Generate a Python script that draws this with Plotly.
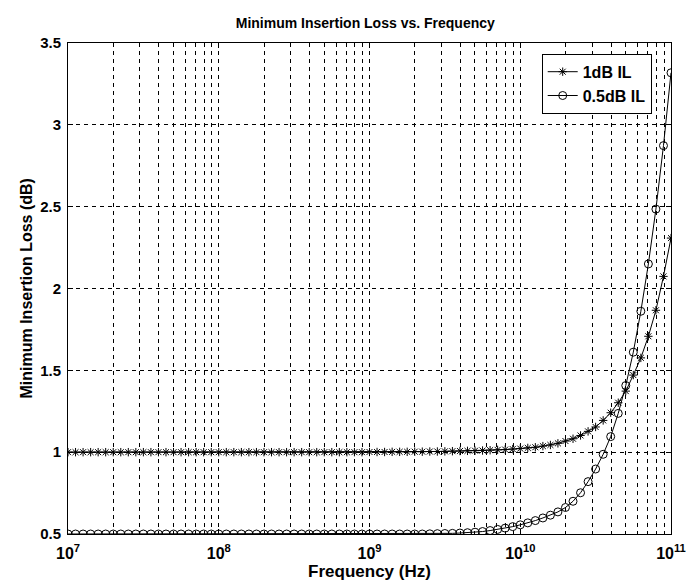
import plotly.graph_objects as go

# Frequencies (Hz): 20 points per decade, 1e7 .. 1e11
freq_hz = [
    1.000e7, 1.122e7, 1.259e7, 1.413e7, 1.585e7, 1.778e7, 1.995e7, 2.239e7, 2.512e7, 2.818e7,
    3.162e7, 3.548e7, 3.981e7, 4.467e7, 5.012e7, 5.623e7, 6.310e7, 7.079e7, 7.943e7, 8.913e7,
    1.000e8, 1.122e8, 1.259e8, 1.413e8, 1.585e8, 1.778e8, 1.995e8, 2.239e8, 2.512e8, 2.818e8,
    3.162e8, 3.548e8, 3.981e8, 4.467e8, 5.012e8, 5.623e8, 6.310e8, 7.079e8, 7.943e8, 8.913e8,
    1.000e9, 1.122e9, 1.259e9, 1.413e9, 1.585e9, 1.778e9, 1.995e9, 2.239e9, 2.512e9, 2.818e9,
    3.162e9, 3.548e9, 3.981e9, 4.467e9, 5.012e9, 5.623e9, 6.310e9, 7.079e9, 7.943e9, 8.913e9,
    1.000e10, 1.122e10, 1.259e10, 1.413e10, 1.585e10, 1.778e10, 1.995e10, 2.239e10, 2.512e10, 2.818e10,
    3.162e10, 3.548e10, 3.981e10, 4.467e10, 5.012e10, 5.623e10, 6.310e10, 7.079e10, 7.943e10, 8.913e10,
    1.000e11,
]

# Minimum insertion loss (dB), 1 dB IL design
il_1db = [
    1.000, 1.000, 1.000, 1.000, 1.000, 1.000, 1.000, 1.000, 1.000, 1.000,
    1.000, 1.000, 1.000, 1.000, 1.000, 1.000, 1.000, 1.000, 1.000, 1.000,
    1.000, 1.000, 1.000, 1.000, 1.000, 1.000, 1.000, 1.000, 1.000, 1.000,
    1.000, 1.000, 1.000, 1.000, 1.000, 1.000, 1.000, 1.000, 1.000, 1.000,
    1.001, 1.001, 1.001, 1.002, 1.002, 1.002, 1.003, 1.003, 1.004, 1.004,
    1.005, 1.006, 1.007, 1.008, 1.009, 1.010, 1.012, 1.014, 1.016, 1.019,
    1.022, 1.026, 1.030, 1.037, 1.044, 1.054, 1.068, 1.082, 1.102, 1.127,
    1.154, 1.194, 1.241, 1.302, 1.373, 1.471, 1.576, 1.708, 1.867, 2.074,
    2.308,
]

# Minimum insertion loss (dB), 0.5 dB IL design
il_05db = [
    0.500, 0.500, 0.500, 0.500, 0.500, 0.500, 0.500, 0.500, 0.500, 0.500,
    0.500, 0.500, 0.500, 0.500, 0.500, 0.500, 0.500, 0.500, 0.500, 0.500,
    0.500, 0.500, 0.500, 0.500, 0.500, 0.500, 0.500, 0.500, 0.500, 0.500,
    0.500, 0.500, 0.500, 0.500, 0.500, 0.500, 0.500, 0.500, 0.500, 0.500,
    0.500, 0.500, 0.500, 0.500, 0.500, 0.500, 0.500, 0.500, 0.501, 0.502,
    0.503, 0.504, 0.506, 0.508, 0.511, 0.515, 0.521, 0.528, 0.536, 0.545,
    0.556, 0.568, 0.582, 0.598, 0.615, 0.635, 0.662, 0.700, 0.752, 0.820,
    0.897, 0.987, 1.095, 1.237, 1.407, 1.611, 1.861, 2.150, 2.485, 2.873,
    3.318,
]

series_names = ["1dB IL", "0.5dB IL"]
x_major_ticks = [1e7, 1e8, 1e9, 1e10, 1e11]
x_major_labels = ["10<sup>7</sup>", "10<sup>8</sup>", "10<sup>9</sup>",
                  "10<sup>10</sup>", "10<sup>11</sup>"]
x_minor_ticks = [m * d for d in [1e7, 1e8, 1e9, 1e10] for m in range(2, 10)]
y_ticks = [0.5, 1, 1.5, 2, 2.5, 3, 3.5]
y_labels = ["0.5", "1", "1.5", "2", "2.5", "3", "3.5"]
y_title = "Minimum Insertion Loss (dB)"

FONT = "Liberation Sans, Arial, Helvetica, sans-serif"
GRID = dict(showgrid=True, gridcolor="#000000", gridwidth=1, griddash="4px,4px")

fig = go.Figure()
fig.add_trace(go.Scatter(
    x=freq_hz, y=il_1db, name=series_names[0], mode="lines+markers",
    line=dict(color="black", width=1),
    marker=dict(symbol="asterisk-open", size=7, color="black",
                line=dict(color="black", width=1)),
))
fig.add_trace(go.Scatter(
    x=freq_hz, y=il_05db, name=series_names[1], mode="lines+markers",
    line=dict(color="black", width=1),
    marker=dict(symbol="circle-open", size=8, color="black",
                line=dict(color="black", width=1)),
))

fig.update_layout(
    width=694, height=582,
    paper_bgcolor="white", plot_bgcolor="white",
    margin=dict(l=60, r=31, t=35, b=56),
    font=dict(family=FONT, size=16, color="black", weight="bold"),
    title=dict(text="Minimum Insertion Loss vs. Frequency", xref="paper", x=0.493,
               xanchor="center", y=0.974, yanchor="middle",
               font=dict(family=FONT, size=14, color="black", weight="bold")),
    showlegend=True,
    legend=dict(x=0.968, y=0.978, xanchor="right", yanchor="top",
                bgcolor="white", bordercolor="black", borderwidth=1,
                font=dict(family=FONT, size=16, color="black", weight="bold"),
                itemwidth=30, tracegroupgap=0),
    annotations=[dict(
        text=y_title, textangle=-90, xref="paper", yref="paper",
        x=0, y=0.5, xanchor="center", yanchor="middle", xshift=-42,
        showarrow=False,
        font=dict(family=FONT, size=16, color="black", weight="bold"),
    )],
    xaxis=dict(
        type="log", range=[7, 11], automargin=False,
        tickmode="array", tickvals=x_major_ticks, ticktext=x_major_labels,
        ticks="inside", ticklen=5, tickcolor="black", ticklabelstandoff=5,
        showline=True, linecolor="black", linewidth=1, mirror="allticks",
        tickfont=dict(family=FONT, size=16, color="black", weight="bold"),
        title=dict(text="Frequency (Hz)", standoff=2,
                   font=dict(family=FONT, size=17, color="black", weight="bold")),
        minor=dict(tickvals=x_minor_ticks, ticks="inside", ticklen=3, tickcolor="black",
                   showgrid=True, gridcolor="#000000", gridwidth=1, griddash="4px,4px"),
        zeroline=False,
        **GRID,
    ),
    yaxis=dict(
        range=[0.5, 3.5], tickmode="array", tickvals=y_ticks, ticktext=y_labels,
        automargin=False,
        ticks="inside", ticklen=5, tickcolor="black", ticklabelstandoff=3,
        showline=True, linecolor="black", linewidth=1, mirror="allticks",
        tickfont=dict(family=FONT, size=15, color="black", weight="bold"),
        zeroline=False,
        **GRID,
    ),
)

fig.write_html("out.html")
